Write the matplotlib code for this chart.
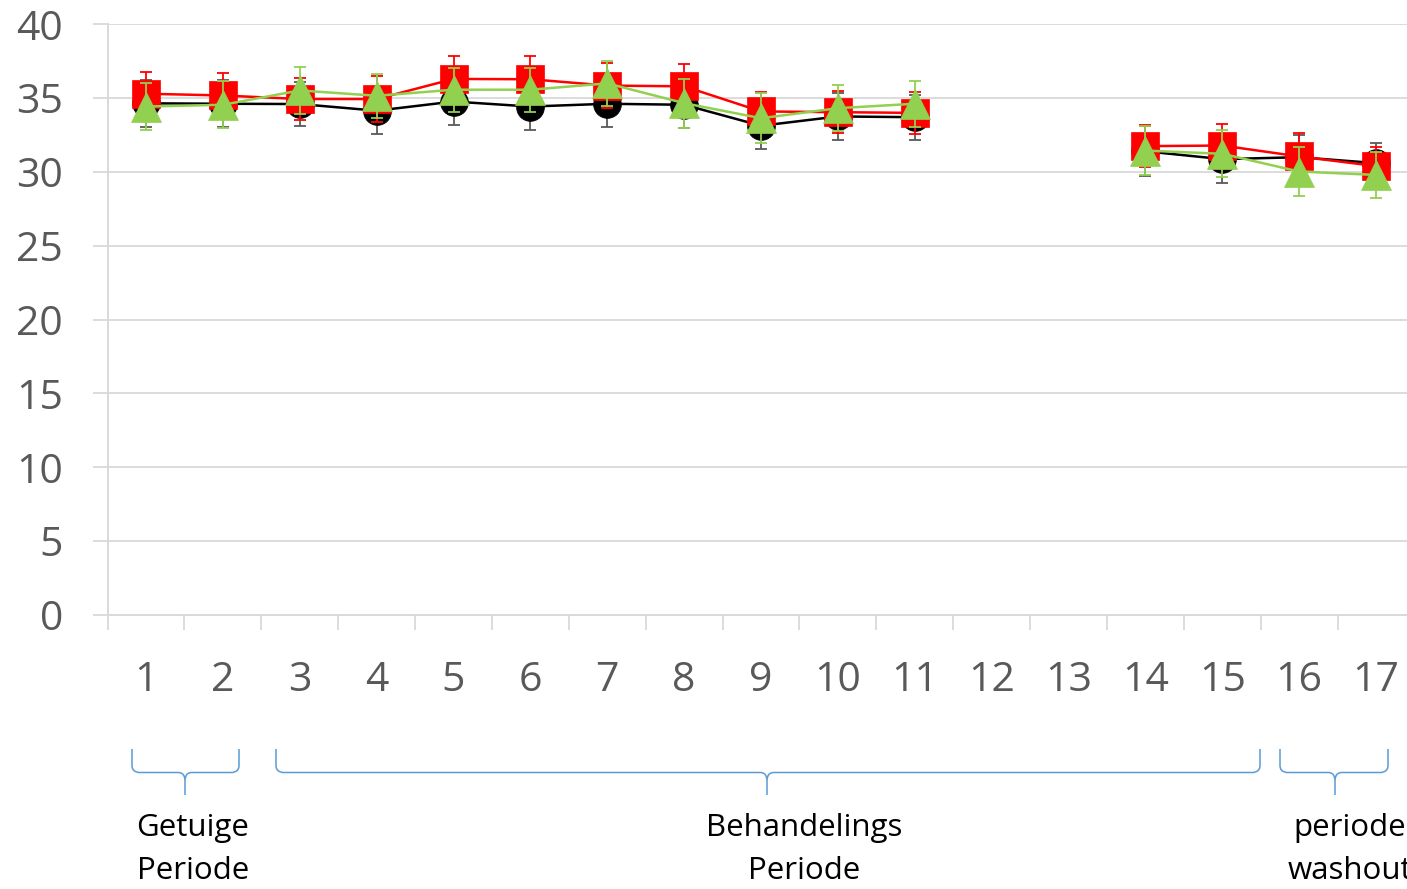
import numpy as np
import matplotlib
matplotlib.use("Agg")
import matplotlib.pyplot as plt
from matplotlib.path import Path
from matplotlib.patches import PathPatch

plt.rcParams['font.family'] = ['Open Sans', 'DejaVu Sans']

nan = np.nan
categories = list(range(1, 18))
tick_labels = [str(c) for c in categories]

black = [34.65, 34.62, 34.6, 34.15, 34.77, 34.43, 34.62, 34.55, 33.13, 33.76, 33.71, nan, nan, 31.4, 30.87, 31.0, 30.6]
red = [35.3, 35.18, 34.94, 34.94, 36.3, 36.28, 35.85, 35.8, 34.1, 34.05, 34.0, nan, nan, 31.75, 31.79, 31.05, 30.4]
green = [34.43, 34.55, 35.52, 35.16, 35.57, 35.57, 36.0, 34.66, 33.64, 34.32, 34.62, nan, nan, 31.45, 31.23, 30.03, 29.8]

black_err = [1.6, 1.6, 1.5, 1.6, 1.58, 1.58, 1.58, 1.58, 1.6, 1.58, 1.53, nan, nan, 1.7, 1.6, 1.5, 1.35]
red_err = [1.5, 1.5, 1.42, 1.58, 1.58, 1.54, 1.5, 1.54, 1.3, 1.4, 1.4, nan, nan, 1.4, 1.47, 1.58, 1.3]
green_err = [1.58, 1.58, 1.6, 1.5, 1.5, 1.5, 1.5, 1.65, 1.7, 1.54, 1.56, nan, nan, 1.65, 1.6, 1.65, 1.58]

yticks = [0, 5, 10, 15, 20, 25, 30, 35, 40]

periods = ["Getuige\nPeriode", "Behandelings\nPeriode", "periode\nwashout"]

W, H = 1407, 889
fig = plt.figure(figsize=(W / 100, H / 100), dpi=100)
ax = fig.add_axes([107.6 / W, 1 - 615 / H, (1414.5 - 107.6) / W, (615 - 24.3) / H])

grid_c = '#d9d9d9'
lab_c = '#595959'
x = np.array(categories)

series = [
    (black, black_err, '#000000', 'o', '#595959'),
    (red, red_err, '#ff0000', 's', '#ff0000'),
    (green, green_err, '#92d050', '^', '#92d050'),
]
for i, (vals, err, col, mk, ecol) in enumerate(series):
    ax.errorbar(x, vals, yerr=err, fmt='none', ecolor=ecol, elinewidth=1.3,
                capsize=4.5, capthick=1.3, zorder=3 + i * 2)
for i, (vals, err, col, mk, ecol) in enumerate(series):
    ax.plot(x, vals, color=col, lw=1.8, marker=mk, ms=20 if mk != '^' else 21,
            markerfacecolor=col, markeredgecolor=col, markeredgewidth=0.5,
            zorder=4 + i * 2, clip_on=False)

ax.set_xlim(0.5, 17.5)
ax.set_ylim(0, 40)
ax.set_yticks(yticks)
ax.set_yticklabels([str(v) for v in yticks])
ax.set_xticks(x)
ax.set_xticklabels(tick_labels)
ax.set_xticks(np.arange(0.5, 18, 1), minor=True)

for s in ['top', 'right']:
    ax.spines[s].set_visible(False)
for s in ['left', 'bottom']:
    ax.spines[s].set_color(grid_c)
    ax.spines[s].set_linewidth(1.4)

ax.yaxis.grid(True, color=grid_c, lw=1.3)
ax.set_axisbelow(True)
ax.tick_params(axis='y', length=11, width=1.3, color=grid_c, labelsize=29.5,
               labelcolor=lab_c, pad=21)
ax.tick_params(axis='x', which='major', length=0, labelsize=29.5, labelcolor=lab_c, pad=33)
ax.tick_params(axis='x', which='minor', length=11, width=1.3, color=grid_c)

# overlay for braces and period labels (pixel coordinates)
ov = fig.add_axes([0, 0, 1, 1])
ov.set_xlim(0, W)
ov.set_ylim(H, 0)
ov.axis('off')
ov.patch.set_alpha(0)

def brace(x0, x1, xc, yt=749, ym=772.5, yb=795, r=7):
    verts = [
        (x0, yt), (x0, ym - r),
        (x0, ym), (x0 + r, ym), (x0 + r, ym),
        (xc - r, ym),
        (xc, ym), (xc, ym + r), (xc, ym + r),
        (xc, yb),
    ]
    codes = [Path.MOVETO, Path.LINETO,
             Path.CURVE4, Path.CURVE4, Path.CURVE4,
             Path.LINETO,
             Path.CURVE4, Path.CURVE4, Path.CURVE4,
             Path.LINETO]
    ov.add_patch(PathPatch(Path(verts, codes), fill=False, ec='#5b9bd5', lw=1.1))
    verts2 = [
        (x1, yt), (x1, ym - r),
        (x1, ym), (x1 - r, ym), (x1 - r, ym),
        (xc + r, ym),
        (xc, ym), (xc, ym + r), (xc, ym + r),
    ]
    codes2 = [Path.MOVETO, Path.LINETO,
              Path.CURVE4, Path.CURVE4, Path.CURVE4,
              Path.LINETO,
              Path.CURVE4, Path.CURVE4, Path.CURVE4]
    ov.add_patch(PathPatch(Path(verts2, codes2), fill=False, ec='#5b9bd5', lw=1.1))

brace(132, 239, 185)
brace(276, 1260, 767)
brace(1280, 1388, 1335)

for txt, xc in zip(periods, [193, 804, 1350]):
    ov.text(xc, 813, txt, ha='center', va='top', fontsize=22.5, color='black',
            linespacing=1.55)

fig.savefig('out.png', dpi=100)
